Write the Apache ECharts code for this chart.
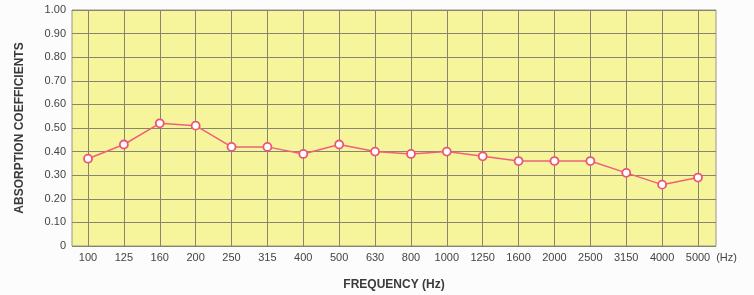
<!DOCTYPE html>
<html>
<head>
<meta charset="utf-8">
<script src="https://cdn.jsdelivr.net/npm/echarts@6/dist/echarts.min.js"></script>
<style>
  html, body { margin: 0; padding: 0; background: #fdfcfc; }
  #chart { width: 754px; height: 295px; }
</style>
</head>
<body>
<div id="chart"></div>
<script>
// 1/3 octave band centre frequencies
const FREQUENCIES = ["100", "125", "160", "200", "250", "315", "400", "500", "630",
  "800", "1000", "1250", "1600", "2000", "2500", "3150", "4000", "5000"];
// absorption coefficient per band
const ABSORPTION = [0.37, 0.43, 0.52, 0.51, 0.42, 0.42, 0.39, 0.43, 0.40,
  0.39, 0.40, 0.38, 0.36, 0.36, 0.36, 0.31, 0.26, 0.29];
const Y_TICKS = { min: 0, max: 1, interval: 0.1 };

const chart = echarts.init(document.getElementById("chart"));
const font = "Liberation Sans, Arial, sans-serif";
const gridLine = { color: "#87856f", width: 1 };

chart.setOption({
  animation: false,
  textStyle: { fontFamily: font },
  grid: [
    // yellow plot box, horizontal grid lines, y labels
    { left: 72, right: 38, top: 10, bottom: 49, show: true, backgroundColor: "#f7f59b",
      borderColor: "#96958a", borderWidth: 1, outerBoundsMode: "none", containLabel: false },
    // data area: first and last band sit inside the box
    { left: 88, right: 56, top: 10, bottom: 49, outerBoundsMode: "none", containLabel: false }
  ],
  xAxis: [
    { gridIndex: 0, type: "value", min: 0, max: 1, show: true,
      axisLine: { show: false }, axisTick: { show: false }, axisLabel: { show: false },
      splitLine: { show: false },
      name: "FREQUENCY (Hz)", nameLocation: "middle", nameGap: 33,
      nameTextStyle: { fontSize: 12, fontWeight: "bold", color: "#3a3a3a", fontFamily: font } },
    { gridIndex: 1, type: "category", data: FREQUENCIES, boundaryGap: false,
      axisLine: { show: false }, axisTick: { show: false },
      axisLabel: { fontSize: 11, color: "#444", margin: 6, fontFamily: font },
      splitLine: { show: true, lineStyle: gridLine },
      name: "(Hz)", nameLocation: "end", nameGap: 10,
      nameTextStyle: { fontSize: 11, color: "#444", verticalAlign: "top", padding: [6, 0, 0, 0] } }
  ],
  yAxis: [
    { gridIndex: 0, type: "value", ...Y_TICKS,
      axisLine: { show: false }, axisTick: { show: false },
      axisLabel: { fontSize: 11, color: "#444", margin: 6, fontFamily: font,
        formatter: v => (v === 0 ? "0" : v.toFixed(2)) },
      splitLine: { show: true, lineStyle: gridLine },
      name: "ABSORPTION COEFFICIENTS", nameLocation: "middle", nameGap: 46,
      nameTextStyle: { fontSize: 12, fontWeight: "bold", color: "#3a3a3a", fontFamily: font } },
    { gridIndex: 1, type: "value", ...Y_TICKS, show: false, splitLine: { show: false } }
  ],
  series: [{
    type: "line",
    xAxisIndex: 1,
    yAxisIndex: 1,
    data: ABSORPTION,
    symbol: "circle",
    symbolSize: 8,
    lineStyle: { color: "#f0607c", width: 1.5 },
    itemStyle: { color: "#ffffff", borderColor: "#ec5576", borderWidth: 1.8 }
  }]
});
</script>
</body>
</html>
